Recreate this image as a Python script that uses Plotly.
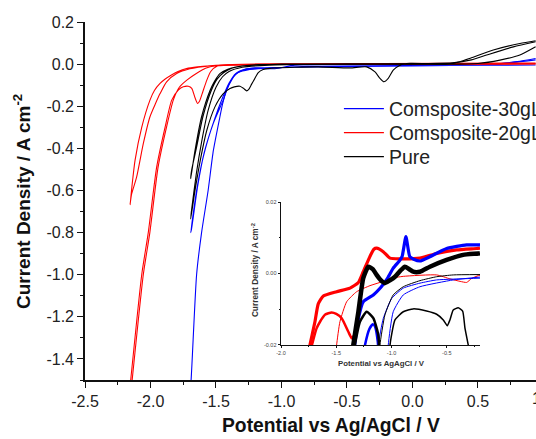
import plotly.graph_objects as go

# ---------------- main voltammograms (potential V, current density A/cm2) ----------------
# Composite-30gL
c30_long_x = [0.94, 0.8, 0.6, 0.3, -0.5, -0.9, -1.05, -1.2, -1.28, -1.342, -1.38, -1.42, -1.45, -1.47, -1.52,
              -1.56, -1.61, -1.648, -1.69, -1.72]
c30_long_y = [0.027, 0.012, 0.0, 0.0, 0.0, -0.005, -0.022, -0.02, -0.026, -0.044, -0.075, -0.124, -0.19, -0.25,
              -0.41, -0.6, -0.8, -1.0, -1.5, -1.75]
c30_short_x = [0.94, 0.6, -0.8, -1.1, -1.25, -1.33, -1.368, -1.41, -1.444, -1.52, -1.597, -1.648, -1.693,
               -1.686, -1.64, -1.59, -1.51, -1.45, -1.40, -1.35, -1.28, -1.2, 0.6, 0.94]
c30_short_y = [-0.004, -0.005, -0.01, -0.02, -0.026, -0.04, -0.06, -0.11, -0.17, -0.28, -0.44, -0.6, -0.8,
               -0.78, -0.58, -0.42, -0.26, -0.16, -0.09, -0.045, -0.025, -0.018, -0.002, 0.02]

# Composite-20gL
c20_long_x = [0.94, 0.5, 0.0, -0.5, -1.0, -1.4, -1.49, -1.54, -1.57, -1.6, -1.625, -1.64, -1.66, -1.685, -1.711,
              -1.75, -1.788, -1.838, -1.889, -1.953, -2.017, -2.067, -2.151, -2.19,
              -2.18, -2.14, -2.055, -2.005, -1.942, -1.878, -1.826, -1.78, -1.72, -1.65, -1.58, -1.5, -1.2, 0.94]
c20_long_y = [0.0, 0.0, 0.0, 0.0, 0.0, -0.003, -0.009, -0.035, -0.076, -0.13, -0.175, -0.187, -0.16, -0.115,
              -0.105, -0.108, -0.124, -0.171, -0.3, -0.489, -0.8, -1.0, -1.5, -1.75,
              -1.75, -1.5, -1.0, -0.8, -0.489, -0.3, -0.171, -0.11, -0.075, -0.045, -0.02, -0.008, -0.002, 0.003]
c20_short_x = [0.94, 0.0, -1.2, -1.45, -1.546, -1.64, -1.725, -1.79, -1.84, -1.89, -1.927, -1.97, -2.004, -2.067,
               -2.118, -2.156,
               -2.145, -2.106, -2.055, -2.004, -1.96, -1.927, -1.877, -1.8, -1.7, -1.6, -1.5, -1.2, 0.94]
c20_short_y = [0.002, 0.0, -0.002, -0.005, -0.008, -0.013, -0.021, -0.035, -0.052, -0.072, -0.092, -0.125, -0.171,
               -0.3, -0.457, -0.667,
               -0.62, -0.537, -0.378, -0.25, -0.185, -0.14, -0.084, -0.045, -0.022, -0.012, -0.006, 0.0, 0.005]

# Pure
pure_a_x = [0.94, 0.82, 0.617, 0.45, 0.363, 0.25, 0.0, -0.5, -1.0, -1.21, -1.29, -1.34, -1.41, -1.47, -1.51,
            -1.545, -1.61, -1.66, -1.693,
            -1.685, -1.65, -1.6, -1.535, -1.49, -1.44, -1.38, -1.33, -1.2, -0.5, 0.0]
pure_a_y = [0.111, 0.098, 0.067, 0.03, 0.011, 0.0, 0.0, 0.0, 0.0, -0.005, -0.008, -0.013, -0.025, -0.045, -0.08,
            -0.124, -0.25, -0.41, -0.544,
            -0.5, -0.4, -0.25, -0.124, -0.07, -0.04, -0.02, -0.012, -0.003, 0.0, 0.0]
pure_b_x = [0.94, 0.82, 0.668, 0.5, 0.2, -0.019, -0.095, -0.147, -0.185, -0.218, -0.248, -0.286, -0.35, -0.477,
            -0.72, -0.9, -1.088, -1.14, -1.177, -1.205, -1.228, -1.25, -1.266, -1.29, -1.317, -1.36, -1.393, -1.444,
            -1.508, -1.57, -1.62, -1.66, -1.693,
            -1.688, -1.65, -1.61, -1.56, -1.5, -1.45, -1.40, -1.3, -1.1, -0.5, 0.306, 0.45, 0.566, 0.77, 0.94]
pure_b_y = [0.082, 0.043, 0.019, 0.003, 0.0, 0.004, -0.005, -0.029, -0.068, -0.084, -0.068, -0.037, -0.013, -0.018,
            -0.013, -0.015, -0.02, -0.026, -0.04, -0.07, -0.095, -0.12, -0.127, -0.115, -0.105, -0.108, -0.116, -0.14,
            -0.203, -0.314, -0.457, -0.6, -0.735,
            -0.7, -0.52, -0.37, -0.22, -0.11, -0.06, -0.035, -0.015, -0.005, 0.0, 0.006, 0.02, 0.043, 0.082, 0.106]

# ---------------- inset: enlarged view near zero current ----------------
in_red_band_x = [-1.76, -1.738, -1.71, -1.693, -1.663, -1.617, -1.497, -1.376, -1.30, -1.256, -1.195, -1.16,
                 -1.135, -1.075, -1.014, -0.924, -0.743, -0.592, -0.411, -0.231, -0.2]
in_red_band_y = [-0.024, -0.02, -0.016, -0.0135, -0.0085, -0.0063, -0.0051, -0.0041, -0.0025, 0.0005, 0.0048,
                 0.0068, 0.0071, 0.0061, 0.0043, 0.0041, 0.0043, 0.0056, 0.0066, 0.0070, 0.0071]
in_red_hump_x = [-1.76, -1.72, -1.68, -1.647, -1.6, -1.542, -1.5, -1.451, -1.391, -1.361, -1.345]
in_red_hump_y = [-0.024, -0.02, -0.0155, -0.0135, -0.0115, -0.0109, -0.0113, -0.0125, -0.0163, -0.0181, -0.0175]
in_red_thin_x = [-1.51, -1.497, -1.467, -1.406, -1.316, -1.195, -1.105, -1.014, -0.894, -0.592, -0.472, -0.38,
                 -0.321, -0.276, -0.216, -0.2]
in_red_thin_y = [-0.024, -0.02, -0.0135, -0.0079, -0.0051, -0.0034, -0.0025, -0.0014, -0.0008, -0.0004, -0.0015,
                 -0.0022, -0.0025, -0.0014, -0.0006, -0.0005]

in_blue_band_x = [-1.35, -1.30, -1.256, -1.165, -1.10, -1.04, -0.985, -0.93, -0.905, -0.87, -0.835, -0.8, -0.743,
                  -0.653, -0.502, -0.321, -0.2]
in_blue_band_y = [-0.024, -0.0126, -0.0079, -0.006, -0.004, -0.0015, 0.0015, 0.0035, 0.0047, 0.0103, 0.0047, 0.004,
                  0.0035, 0.0047, 0.007, 0.008, 0.008]
in_blue_hump_x = [-1.26, -1.24, -1.2, -1.17, -1.15, -1.125, -1.115]
in_blue_hump_y = [-0.024, -0.02, -0.0155, -0.0142, -0.0148, -0.019, -0.024]
in_blue_thin1_x = [-1.125, -1.12, -1.075, -0.999, -0.894, -0.743, -0.592, -0.29, -0.2]
in_blue_thin1_y = [-0.024, -0.02, -0.0126, -0.007, -0.0041, -0.0027, -0.0018, -0.0014, -0.0013]
in_blue_thin2_x = [-1.035, -1.03, -0.985, -0.894, -0.743, -0.442, -0.2]
in_blue_thin2_y = [-0.024, -0.02, -0.0107, -0.006, -0.0037, -0.0018, -0.001]

in_black_band_x = [-1.36, -1.346, -1.30, -1.256, -1.21, -1.17, -1.135, -1.10, -1.06, -1.015, -0.969, -0.92, -0.879,
                   -0.84, -0.804, -0.743, -0.653, -0.502, -0.352, -0.216, -0.2]
in_black_band_y = [-0.024, -0.02, -0.0107, -0.0013, 0.0019, 0.0012, -0.0004, -0.0018, -0.0027, -0.0019, -0.0009,
                   0.0008, 0.0019, 0.0012, 0.0005, 0.0005, 0.0019, 0.0038, 0.0052, 0.0056, 0.0057]
in_black_hump_x = [-1.34, -1.331, -1.286, -1.225, -1.165, -1.12, -1.11]
in_black_hump_y = [-0.024, -0.02, -0.0135, -0.0107, -0.0125, -0.0172, -0.024]
in_black_thin_x = [-1.11, -1.105, -1.06, -0.985, -0.894, -0.743, -0.592, -0.442, -0.2]
in_black_thin_y = [-0.024, -0.02, -0.0116, -0.006, -0.0037, -0.002, -0.0009, -0.0004, -0.0003]
in_black_low_x = [-1.02, -1.014, -0.969, -0.894, -0.804, -0.683, -0.592, -0.532, -0.496, -0.472, -0.442, -0.397,
                  -0.357, -0.336, -0.306, -0.3]
in_black_low_y = [-0.024, -0.02, -0.013, -0.0107, -0.0099, -0.0105, -0.0114, -0.013, -0.0146, -0.013, -0.0102,
                  -0.0096, -0.0105, -0.0153, -0.02, -0.021]

# ---------------- tick labels ----------------
main_xticks = [-2.5, -2.0, -1.5, -1.0, -0.5, 0.0, 0.5]
main_xtext = ["-2.5", "-2.0", "-1.5", "-1.0", "-0.5", "0.0", "0.5"]
main_yticks = [0.2, 0.0, -0.2, -0.4, -0.6, -0.8, -1.0, -1.2, -1.4]
main_ytext = ["0.2", "0.0", "-0.2", "-0.4", "-0.6", "-0.8", "-1.0", "-1.2", "-1.4"]
inset_xticks = [-2.0, -1.5, -1.0, -0.5]
inset_xtext = ["-2.0", "-1.5", "-1.0", "-0.5"]
inset_yticks = [-0.02, 0.0, 0.02]
inset_ytext = ["-0.02", "0.00", "0.02"]

BLUE, RED, BLACK = "#0000ff", "#ff0000", "#000000"
FONT = "Liberation Sans, Arial, sans-serif"


def joined(*pairs):
    xs, ys = [], []
    for px, py in pairs:
        if xs:
            xs.append(None)
            ys.append(None)
        xs += px
        ys += py
    return xs, ys


fig = go.Figure()

bx, by = joined((c30_long_x, c30_long_y), (c30_short_x, c30_short_y))
rx, ry = joined((c20_long_x, c20_long_y), (c20_short_x, c20_short_y))
kx, ky = joined((pure_a_x, pure_a_y), (pure_b_x, pure_b_y))

# one legend box per series so that the rows sit at fixed heights
main_series = [(bx, by, BLUE, "Comsposite-30gL", "legend", 0.757),
               (rx, ry, RED, "Comsposite-20gL", "legend2", 0.690),
               (kx, ky, BLACK, "Pure", "legend3", 0.623)]
legend_boxes = {}
for sx, sy, col, name, leg, ly in main_series:
    fig.add_trace(go.Scatter(x=sx, y=sy, mode="lines", name=name, connectgaps=False, legend=leg,
                             line=dict(color=col, width=1.1, shape="spline", smoothing=0.6)))
    legend_boxes[leg] = dict(x=0.563, y=ly, xanchor="left", yanchor="middle", bgcolor="rgba(0,0,0,0)",
                             font=dict(family=FONT, size=19.5, color="#222"), itemwidth=40)

inset_traces = [
    (in_red_band_x, in_red_band_y, RED, 3.2),
    (in_red_hump_x, in_red_hump_y, RED, 2.5),
    (in_red_thin_x, in_red_thin_y, RED, 1.0),
    (in_blue_band_x, in_blue_band_y, BLUE, 3.2),
    (in_blue_hump_x, in_blue_hump_y, BLUE, 2.5),
    (in_blue_thin1_x, in_blue_thin1_y, BLUE, 1.0),
    (in_blue_thin2_x, in_blue_thin2_y, BLUE, 1.0),
    (in_black_band_x, in_black_band_y, BLACK, 4.5),
    (in_black_hump_x, in_black_hump_y, BLACK, 2.5),
    (in_black_thin_x, in_black_thin_y, BLACK, 1.0),
    (in_black_low_x, in_black_low_y, BLACK, 1.5),
]
for ix, iy, col, w in inset_traces:
    fig.add_trace(go.Scatter(x=ix, y=iy, mode="lines", xaxis="x2", yaxis="y2", showlegend=False,
                             line=dict(color=col, width=w, shape="spline", smoothing=0.5)))

axis_common = dict(showgrid=False, zeroline=False, showline=True, linecolor="#111", ticks="outside",
                   tickcolor="#111", mirror=False)

fig.update_layout(
    width=536, height=439,
    margin=dict(l=85, r=0, t=22, b=59, autoexpand=False),
    paper_bgcolor="white", plot_bgcolor="white",
    font=dict(family=FONT, color="#222"),
    showlegend=True,
    legend=legend_boxes["legend"],
    legend2=legend_boxes["legend2"],
    legend3=legend_boxes["legend3"],
    xaxis=dict(axis_common, range=[-2.5, 0.943], domain=[0, 1], linewidth=1.6, ticklen=6, tickwidth=1.4,
               tickvals=main_xticks, ticktext=main_xtext, tickfont=dict(size=16, color="#222"),
               minor=dict(ticks="outside", dtick=0.25, tick0=-2.5, ticklen=3.5, tickcolor="#111", tickwidth=1.2)),
    yaxis=dict(axis_common, range=[-1.5, 0.2], domain=[0, 1], linewidth=1.6, ticklen=6, tickwidth=1.4,
               tickvals=main_yticks, ticktext=main_ytext, tickfont=dict(size=16, color="#222"),
               minor=dict(ticks="outside", dtick=0.1, tick0=0.0, ticklen=3.5, tickcolor="#111", tickwidth=1.2)),
    xaxis2=dict(axis_common, range=[-2.0, -0.2], domain=[0.4346, 0.8758], anchor="y2", linewidth=0.9,
                ticklen=2.5, tickwidth=0.8, tickvals=inset_xticks, ticktext=inset_xtext,
                tickfont=dict(size=5.5, color="#444"),
                minor=dict(ticks="outside", dtick=0.25, tick0=-2.0, ticklen=1.5, tickcolor="#111", tickwidth=0.7)),
    yaxis2=dict(axis_common, range=[-0.02, 0.02], domain=[0.0978, 0.4972], anchor="x2", linewidth=0.9,
                ticklen=2.5, tickwidth=0.8, tickvals=inset_yticks, ticktext=inset_ytext,
                tickfont=dict(size=5.5, color="#444"),
                minor=dict(ticks="outside", dtick=0.01, tick0=0.0, ticklen=1.5, tickcolor="#111", tickwidth=0.7)),
    annotations=[
        dict(text="<b>Potential vs Ag/AgCl / V</b>", xref="paper", yref="paper", x=0.5455, y=-0.1257,
             xanchor="center", yanchor="middle", showarrow=False, font=dict(family=FONT, size=19.3, color="#111")),
        dict(text="<b>Current Density / A cm<sup>-2</sup></b>", xref="paper", yref="paper", x=-0.1397, y=0.5,
             xanchor="center", yanchor="middle", textangle=-90, showarrow=False,
             font=dict(family=FONT, size=19, color="#111")),
        dict(text="1.0", xref="paper", yref="paper", x=1.0155, y=-0.053, xanchor="center", yanchor="middle",
             showarrow=False, font=dict(family=FONT, size=16, color="#222")),
        dict(text="<b>Potential vs AgAgCl / V</b>", xref="paper", yref="paper", x=0.6585, y=0.0447,
             xanchor="center", yanchor="middle", showarrow=False, font=dict(family=FONT, size=7.8, color="#333")),
        dict(text="<b>Current Density / A cm<sup>-2</sup></b>", xref="paper", yref="paper", x=0.377, y=0.307,
             xanchor="center", yanchor="middle", textangle=-90, showarrow=False,
             font=dict(family=FONT, size=8.3, color="#333")),
    ],
)

fig.write_html("out.html")
